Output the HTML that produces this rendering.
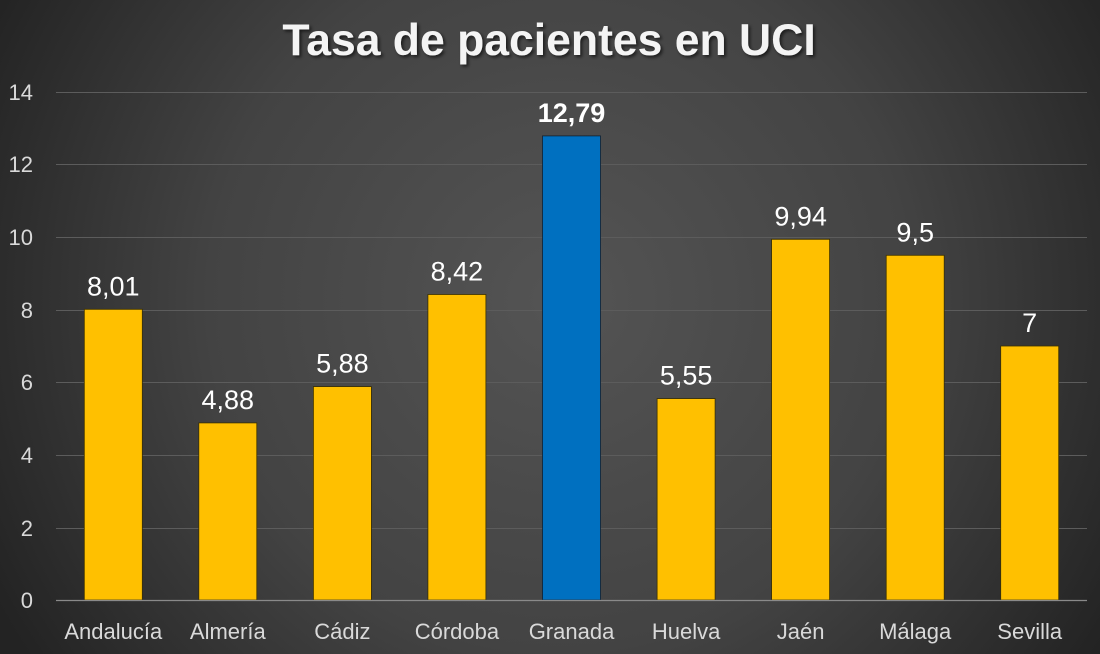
<!DOCTYPE html>
<html><head><meta charset="utf-8"><style>
html,body{margin:0;padding:0;}
body{width:1100px;height:654px;overflow:hidden;}
svg{display:block;}
text{font-family:"Liberation Sans",sans-serif;}
</style></head><body>
<svg width="1100" height="654" viewBox="0 0 1100 654" xmlns="http://www.w3.org/2000/svg">
<defs>
<radialGradient id="bg" cx="560" cy="300" r="640" gradientUnits="userSpaceOnUse">
<stop offset="0" stop-color="#545454"/>
<stop offset="0.55" stop-color="#434343"/>
<stop offset="1" stop-color="#232323"/>
</radialGradient>
<filter id="sh" x="-5%" y="-20%" width="110%" height="150%">
<feDropShadow dx="2" dy="2" stdDeviation="1.5" flood-color="#000" flood-opacity="0.6"/>
</filter>
</defs>
<rect width="1100" height="654" fill="url(#bg)"/>
<text x="549" y="55" text-anchor="middle" font-size="44.5" font-weight="bold" fill="#f4f4f4" filter="url(#sh)">Tasa de pacientes en UCI</text>
<g stroke="#5c5c5c" stroke-width="1">
<line x1="56" y1="92.5" x2="1087" y2="92.5"/>
<line x1="56" y1="164.5" x2="1087" y2="164.5"/>
<line x1="56" y1="237.5" x2="1087" y2="237.5"/>
<line x1="56" y1="310.5" x2="1087" y2="310.5"/>
<line x1="56" y1="382.5" x2="1087" y2="382.5"/>
<line x1="56" y1="455.5" x2="1087" y2="455.5"/>
<line x1="56" y1="528.5" x2="1087" y2="528.5"/>
</g>
<g fill="#d9d9d9" font-size="22" text-anchor="end">
<text x="33" y="100">14</text>
<text x="33" y="172">12</text>
<text x="33" y="245">10</text>
<text x="33" y="318">8</text>
<text x="33" y="390">6</text>
<text x="33" y="463">4</text>
<text x="33" y="536">2</text>
<text x="33" y="608">0</text>
</g>
<g stroke="#3a3000" stroke-width="0.8" fill="#FFC000">
<rect x="84.3" y="309.3" width="58" height="290.7"/>
<rect x="198.8" y="422.9" width="58" height="177.1"/>
<rect x="313.4" y="386.6" width="58" height="213.4"/>
<rect x="427.9" y="294.5" width="58" height="305.5"/>
<rect x="657.1" y="398.6" width="58" height="201.4"/>
<rect x="771.6" y="239.3" width="58" height="360.7"/>
<rect x="886.2" y="255.3" width="58" height="344.7"/>
<rect x="1000.7" y="346" width="58" height="254"/>
</g>
<rect x="542.5" y="135.9" width="58" height="464.1" fill="#0070C0" stroke="#102030" stroke-width="0.8"/>
<line x1="56" y1="600.5" x2="1087" y2="600.5" stroke="#8a8a8a" stroke-width="1.2"/>
<g fill="#ffffff" font-size="27" text-anchor="middle">
<text x="113.3" y="295.3">8,01</text>
<text x="227.8" y="408.9">4,88</text>
<text x="342.4" y="372.6">5,88</text>
<text x="456.9" y="280.5">8,42</text>
<text x="571.5" y="121.9" font-weight="bold">12,79</text>
<text x="686.1" y="384.6">5,55</text>
<text x="800.6" y="225.3">9,94</text>
<text x="915.2" y="241.3">9,5</text>
<text x="1029.7" y="332">7</text>
</g>
<g fill="#d9d9d9" font-size="22" text-anchor="middle">
<text x="113.3" y="639">Andalucía</text>
<text x="227.8" y="639">Almería</text>
<text x="342.4" y="639">Cádiz</text>
<text x="456.9" y="639">Córdoba</text>
<text x="571.5" y="639">Granada</text>
<text x="686.1" y="639">Huelva</text>
<text x="800.6" y="639">Jaén</text>
<text x="915.2" y="639">Málaga</text>
<text x="1029.7" y="639">Sevilla</text>
</g>
</svg>
</body></html>
